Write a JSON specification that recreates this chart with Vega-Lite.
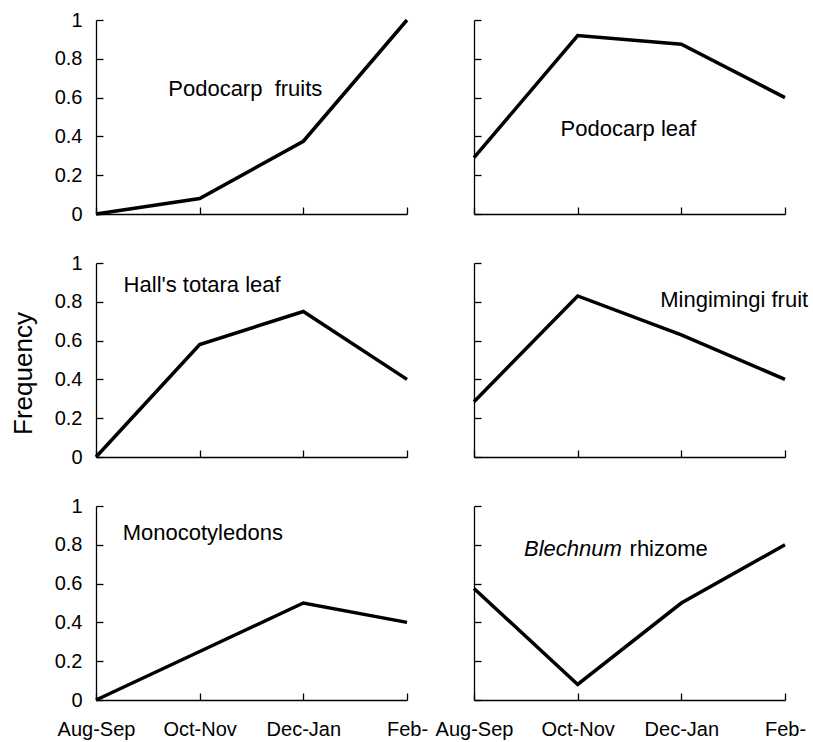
{
  "$schema": "https://vega.github.io/schema/vega-lite/v6.json",
  "background": "white",
  "padding": {"left": 10, "top": 10, "right": 5, "bottom": 5},
  "bounds": "flush",
  "columns": 2,
  "spacing": {"row": 49, "column": 67},
  "config": {
    "view": {"stroke": null},
    "font": "Liberation Sans",
    "axis": {
      "grid": false,
      "domainColor": "black",
      "domainWidth": 1.3,
      "tickColor": "black",
      "tickWidth": 1.3,
      "tickSize": -7,
      "labelOverlap": false,
      "labelFlush": false,
      "labelFont": "Liberation Sans",
      "labelFontSize": 20,
      "labelColor": "black",
      "titleFont": "Liberation Sans",
      "titleFontSize": 26,
      "titleFontWeight": "normal",
      "titleColor": "black"
    },
    "text": {"font": "Liberation Sans", "fontSize": 22, "color": "black", "baseline": "middle", "align": "center"},
    "line": {"color": "black", "strokeWidth": 3.5}
  },
  "datasets": {
    "pts": [
      {"panel": "Podocarp fruits", "period": "Aug-Sep", "i": 0, "freq": 0},
      {"panel": "Podocarp fruits", "period": "Oct-Nov", "i": 1, "freq": 0.08},
      {"panel": "Podocarp fruits", "period": "Dec-Jan", "i": 2, "freq": 0.375},
      {"panel": "Podocarp fruits", "period": "Feb-", "i": 3, "freq": 1},
      {"panel": "Podocarp leaf", "period": "Aug-Sep", "i": 0, "freq": 0.29},
      {"panel": "Podocarp leaf", "period": "Oct-Nov", "i": 1, "freq": 0.92},
      {"panel": "Podocarp leaf", "period": "Dec-Jan", "i": 2, "freq": 0.875},
      {"panel": "Podocarp leaf", "period": "Feb-", "i": 3, "freq": 0.6},
      {"panel": "Hall's totara leaf", "period": "Aug-Sep", "i": 0, "freq": 0},
      {"panel": "Hall's totara leaf", "period": "Oct-Nov", "i": 1, "freq": 0.58},
      {"panel": "Hall's totara leaf", "period": "Dec-Jan", "i": 2, "freq": 0.75},
      {"panel": "Hall's totara leaf", "period": "Feb-", "i": 3, "freq": 0.4},
      {"panel": "Mingimingi fruit", "period": "Aug-Sep", "i": 0, "freq": 0.285},
      {"panel": "Mingimingi fruit", "period": "Oct-Nov", "i": 1, "freq": 0.83},
      {"panel": "Mingimingi fruit", "period": "Dec-Jan", "i": 2, "freq": 0.63},
      {"panel": "Mingimingi fruit", "period": "Feb-", "i": 3, "freq": 0.4},
      {"panel": "Monocotyledons", "period": "Aug-Sep", "i": 0, "freq": 0},
      {"panel": "Monocotyledons", "period": "Oct-Nov", "i": 1, "freq": 0.25},
      {"panel": "Monocotyledons", "period": "Dec-Jan", "i": 2, "freq": 0.5},
      {"panel": "Monocotyledons", "period": "Feb-", "i": 3, "freq": 0.4},
      {"panel": "Blechnum rhizome", "period": "Aug-Sep", "i": 0, "freq": 0.575},
      {"panel": "Blechnum rhizome", "period": "Oct-Nov", "i": 1, "freq": 0.08},
      {"panel": "Blechnum rhizome", "period": "Dec-Jan", "i": 2, "freq": 0.5},
      {"panel": "Blechnum rhizome", "period": "Feb-", "i": 3, "freq": 0.8}
    ],
    "labels": [
      {"panel": "Podocarp fruits", "part": "plain", "text": "Podocarp\u00a0 fruits", "lx": 1.44, "ly": 0.645},
      {"panel": "Podocarp leaf", "part": "plain", "text": "Podocarp leaf", "lx": 1.49, "ly": 0.436},
      {"panel": "Hall's totara leaf", "part": "plain", "text": "Hall's totara leaf", "lx": 1.024, "ly": 0.888},
      {"panel": "Mingimingi fruit", "part": "plain", "text": "Mingimingi fruit", "lx": 2.51, "ly": 0.81},
      {"panel": "Monocotyledons", "part": "plain", "text": "Monocotyledons", "lx": 1.03, "ly": 0.862},
      {"panel": "Blechnum rhizome", "part": "italic", "text": "Blechnum", "lx": 0.954, "ly": 0.778},
      {"panel": "Blechnum rhizome", "part": "plain", "text": "rhizome", "lx": 1.878, "ly": 0.778}
    ]
  },
  "concat": [
    {
      "width": 311, "height": 194,
      "layer": [
        {"data": {"name": "pts"}, "transform": [{"filter": {"field": "panel", "equal": "Podocarp fruits"}}],
         "mark": {"type": "line"},
         "encoding": {
           "x": {"field": "i", "type": "quantitative", "scale": {"domain": [0, 3], "nice": false}, "axis": {"title": null, "values": [0, 1, 2, 3], "labels": false}},
           "y": {"field": "freq", "type": "quantitative", "scale": {"domain": [0, 1], "nice": false}, "axis": {"title": null, "values": [0, 0.2, 0.4, 0.6, 0.8, 1], "format": "~g", "labelPadding": 21, "labelOverlap": false}}
         }},
        {"data": {"name": "labels"}, "transform": [{"filter": {"field": "panel", "equal": "Podocarp fruits"}}],
         "mark": {"type": "text"},
         "encoding": {
           "x": {"field": "lx", "type": "quantitative", "scale": {"domain": [0, 3], "nice": false}, "axis": {"title": null, "values": [0, 1, 2, 3], "labels": false}},
           "y": {"field": "ly", "type": "quantitative", "scale": {"domain": [0, 1], "nice": false}, "axis": {"title": null, "values": [0, 0.2, 0.4, 0.6, 0.8, 1], "format": "~g", "labelPadding": 21, "labelOverlap": false}},
           "text": {"field": "text"}
         }}
      ]
    },
    {
      "width": 311, "height": 194,
      "layer": [
        {"data": {"name": "pts"}, "transform": [{"filter": {"field": "panel", "equal": "Podocarp leaf"}}],
         "mark": {"type": "line"},
         "encoding": {
           "x": {"field": "i", "type": "quantitative", "scale": {"domain": [0, 3], "nice": false}, "axis": {"title": null, "values": [0, 1, 2, 3], "labels": false}},
           "y": {"field": "freq", "type": "quantitative", "scale": {"domain": [0, 1], "nice": false}, "axis": {"title": null, "values": [0, 0.2, 0.4, 0.6, 0.8, 1], "labels": false}}
         }},
        {"data": {"name": "labels"}, "transform": [{"filter": {"field": "panel", "equal": "Podocarp leaf"}}],
         "mark": {"type": "text"},
         "encoding": {
           "x": {"field": "lx", "type": "quantitative", "scale": {"domain": [0, 3], "nice": false}, "axis": {"title": null, "values": [0, 1, 2, 3], "labels": false}},
           "y": {"field": "ly", "type": "quantitative", "scale": {"domain": [0, 1], "nice": false}, "axis": {"title": null, "values": [0, 0.2, 0.4, 0.6, 0.8, 1], "labels": false}},
           "text": {"field": "text"}
         }}
      ]
    },
    {
      "width": 311, "height": 194,
      "layer": [
        {"data": {"name": "pts"}, "transform": [{"filter": {"field": "panel", "equal": "Hall's totara leaf"}}],
         "mark": {"type": "line"},
         "encoding": {
           "x": {"field": "i", "type": "quantitative", "scale": {"domain": [0, 3], "nice": false}, "axis": {"title": null, "values": [0, 1, 2, 3], "labels": false}},
           "y": {"field": "freq", "type": "quantitative", "scale": {"domain": [0, 1], "nice": false}, "axis": {"title": "Frequency", "titlePadding": 18, "titleY": 110, "values": [0, 0.2, 0.4, 0.6, 0.8, 1], "format": "~g", "labelPadding": 21, "labelOverlap": false}}
         }},
        {"data": {"name": "labels"}, "transform": [{"filter": {"field": "panel", "equal": "Hall's totara leaf"}}],
         "mark": {"type": "text"},
         "encoding": {
           "x": {"field": "lx", "type": "quantitative", "scale": {"domain": [0, 3], "nice": false}, "axis": {"title": null, "values": [0, 1, 2, 3], "labels": false}},
           "y": {"field": "ly", "type": "quantitative", "scale": {"domain": [0, 1], "nice": false}, "axis": {"title": "Frequency", "titlePadding": 18, "titleY": 110, "values": [0, 0.2, 0.4, 0.6, 0.8, 1], "format": "~g", "labelPadding": 21, "labelOverlap": false}},
           "text": {"field": "text"}
         }}
      ]
    },
    {
      "width": 311, "height": 194,
      "layer": [
        {"data": {"name": "pts"}, "transform": [{"filter": {"field": "panel", "equal": "Mingimingi fruit"}}],
         "mark": {"type": "line"},
         "encoding": {
           "x": {"field": "i", "type": "quantitative", "scale": {"domain": [0, 3], "nice": false}, "axis": {"title": null, "values": [0, 1, 2, 3], "labels": false}},
           "y": {"field": "freq", "type": "quantitative", "scale": {"domain": [0, 1], "nice": false}, "axis": {"title": null, "values": [0, 0.2, 0.4, 0.6, 0.8, 1], "labels": false}}
         }},
        {"data": {"name": "labels"}, "transform": [{"filter": {"field": "panel", "equal": "Mingimingi fruit"}}],
         "mark": {"type": "text"},
         "encoding": {
           "x": {"field": "lx", "type": "quantitative", "scale": {"domain": [0, 3], "nice": false}, "axis": {"title": null, "values": [0, 1, 2, 3], "labels": false}},
           "y": {"field": "ly", "type": "quantitative", "scale": {"domain": [0, 1], "nice": false}, "axis": {"title": null, "values": [0, 0.2, 0.4, 0.6, 0.8, 1], "labels": false}},
           "text": {"field": "text"}
         }}
      ]
    },
    {
      "width": 311, "height": 194,
      "layer": [
        {"data": {"name": "pts"}, "transform": [{"filter": {"field": "panel", "equal": "Monocotyledons"}}],
         "mark": {"type": "line"},
         "encoding": {
           "x": {"field": "i", "type": "quantitative", "scale": {"domain": [0, 3], "nice": false}, "axis": {"title": null, "values": [0, 1, 2, 3], "labelPadding": 26, "labelFlush": false, "labelOverlap": false, "labelExpr": "['Aug-Sep', 'Oct-Nov', 'Dec-Jan', 'Feb-'][datum.value]"}},
           "y": {"field": "freq", "type": "quantitative", "scale": {"domain": [0, 1], "nice": false}, "axis": {"title": null, "values": [0, 0.2, 0.4, 0.6, 0.8, 1], "format": "~g", "labelPadding": 21, "labelOverlap": false}}
         }},
        {"data": {"name": "labels"}, "transform": [{"filter": {"field": "panel", "equal": "Monocotyledons"}}],
         "mark": {"type": "text"},
         "encoding": {
           "x": {"field": "lx", "type": "quantitative", "scale": {"domain": [0, 3], "nice": false}, "axis": {"title": null, "values": [0, 1, 2, 3], "labelPadding": 26, "labelFlush": false, "labelOverlap": false, "labelExpr": "['Aug-Sep', 'Oct-Nov', 'Dec-Jan', 'Feb-'][datum.value]"}},
           "y": {"field": "ly", "type": "quantitative", "scale": {"domain": [0, 1], "nice": false}, "axis": {"title": null, "values": [0, 0.2, 0.4, 0.6, 0.8, 1], "format": "~g", "labelPadding": 21, "labelOverlap": false}},
           "text": {"field": "text"}
         }}
      ]
    },
    {
      "width": 311, "height": 194,
      "layer": [
        {"data": {"name": "pts"}, "transform": [{"filter": {"field": "panel", "equal": "Blechnum rhizome"}}],
         "mark": {"type": "line"},
         "encoding": {
           "x": {"field": "i", "type": "quantitative", "scale": {"domain": [0, 3], "nice": false}, "axis": {"title": null, "values": [0, 1, 2, 3], "labelPadding": 26, "labelFlush": false, "labelOverlap": false, "labelExpr": "['Aug-Sep', 'Oct-Nov', 'Dec-Jan', 'Feb-'][datum.value]"}},
           "y": {"field": "freq", "type": "quantitative", "scale": {"domain": [0, 1], "nice": false}, "axis": {"title": null, "values": [0, 0.2, 0.4, 0.6, 0.8, 1], "labels": false}}
         }},
        {"data": {"name": "labels"}, "transform": [{"filter": {"field": "panel", "equal": "Blechnum rhizome"}}, {"filter": {"field": "part", "equal": "italic"}}],
         "mark": {"type": "text", "fontStyle": "italic"},
         "encoding": {
           "x": {"field": "lx", "type": "quantitative", "scale": {"domain": [0, 3], "nice": false}, "axis": {"title": null, "values": [0, 1, 2, 3], "labelPadding": 26, "labelFlush": false, "labelOverlap": false, "labelExpr": "['Aug-Sep', 'Oct-Nov', 'Dec-Jan', 'Feb-'][datum.value]"}},
           "y": {"field": "ly", "type": "quantitative", "scale": {"domain": [0, 1], "nice": false}, "axis": {"title": null, "values": [0, 0.2, 0.4, 0.6, 0.8, 1], "labels": false}},
           "text": {"field": "text"}
         }},
        {"data": {"name": "labels"}, "transform": [{"filter": {"field": "panel", "equal": "Blechnum rhizome"}}, {"filter": {"field": "part", "equal": "plain"}}],
         "mark": {"type": "text"},
         "encoding": {
           "x": {"field": "lx", "type": "quantitative", "scale": {"domain": [0, 3], "nice": false}, "axis": {"title": null, "values": [0, 1, 2, 3], "labelPadding": 26, "labelFlush": false, "labelOverlap": false, "labelExpr": "['Aug-Sep', 'Oct-Nov', 'Dec-Jan', 'Feb-'][datum.value]"}},
           "y": {"field": "ly", "type": "quantitative", "scale": {"domain": [0, 1], "nice": false}, "axis": {"title": null, "values": [0, 0.2, 0.4, 0.6, 0.8, 1], "labels": false}},
           "text": {"field": "text"}
         }}
      ]
    }
  ]
}
